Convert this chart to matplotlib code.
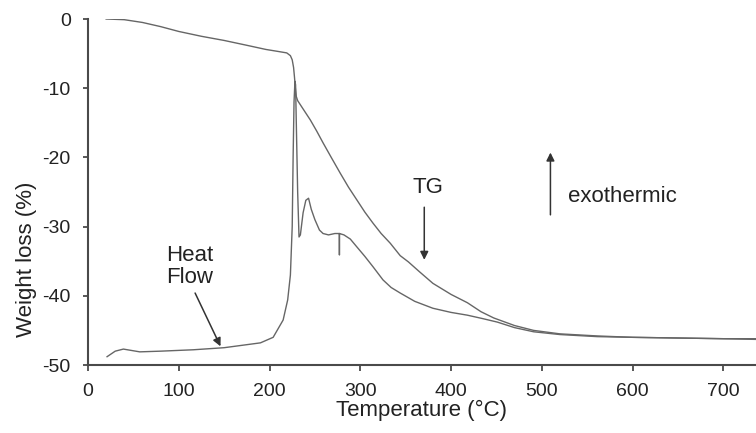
import matplotlib
matplotlib.use("Agg")
import matplotlib.pyplot as plt

plt.rcParams['font.family'] = ['Liberation Sans', 'DejaVu Sans']

# TG curve (weight loss %)
tg_t = [20, 40, 60, 80, 100, 125, 150, 175, 196, 210, 219, 223, 225, 226.5, 227.5,
        228.5, 229.5, 231, 235, 240, 245, 252, 259, 268, 278, 287, 296.5, 305, 314,
        323, 333, 344, 353, 365, 380, 400, 418, 433, 447, 470, 491, 520, 561, 600,
        650, 700, 736]
tg_y = [0, -0.1, -0.5, -1.1, -1.8, -2.5, -3.1, -3.8, -4.4, -4.7, -4.9, -5.3, -5.9,
        -7.0, -8.4, -10.0, -11.2, -11.8, -12.6, -13.6, -14.6, -16.2, -17.9, -20.0,
        -22.3, -24.3, -26.2, -27.9, -29.5, -31.0, -32.4, -34.2, -35.1, -36.5, -38.2,
        -39.8, -41.0, -42.3, -43.2, -44.3, -45.0, -45.5, -45.8, -46.0, -46.1, -46.2,
        -46.3]

# Heat flow curve (arbitrary, plotted on same scale)
hf_t = [21, 30, 39, 48, 57, 80, 116, 150, 190, 204, 215, 220, 223, 225, 226, 227,
        228, 228.7, 229.5, 231, 232.5, 234, 237, 240, 243, 246, 250, 255, 259, 265,
        272, 277, 277.01, 277.02, 282, 289, 296, 305, 314, 325, 334, 344, 360, 380,
        400, 418, 435, 451, 470, 491, 520, 561, 600, 650, 700, 736]
hf_y = [-48.8, -48.0, -47.7, -47.9, -48.1, -48.0, -47.8, -47.5, -46.8, -46.0, -43.5,
        -40.6, -37.0, -30.0, -20.0, -12.0, -9.0, -9.5, -15.0, -25.0, -31.5, -31.2,
        -28.0, -26.2, -25.9, -27.5, -29.0, -30.5, -31.0, -31.2, -31.0, -31.0, -34.1,
        -31.0, -31.2, -31.8, -32.9, -34.3, -35.8, -37.7, -38.8, -39.6, -40.8, -41.8,
        -42.4, -42.8, -43.3, -43.8, -44.6, -45.2, -45.6, -45.9, -46.0, -46.1, -46.2,
        -46.2]

xticks = [0, 100, 200, 300, 400, 500, 600, 700]
yticks = [0, -10, -20, -30, -40, -50]

line_color = '#666666'
spine_color = '#4a4a4a'
text_color = '#222222'
big = 16

fig = plt.figure(figsize=(7.56, 4.33), dpi=100)
ax = fig.add_axes([88/756, 68/433, 668/756, 346/433])

ax.plot(tg_t, tg_y, color=line_color, lw=1.0)
ax.plot(hf_t, hf_y, color=line_color, lw=1.0)

ax.set_xlim(0, 736)
ax.set_ylim(-50, 0)
ax.set_xticks(xticks)
ax.set_yticks(yticks)
ax.set_yticklabels([str(v) for v in yticks])

for s in ['top', 'right']:
    ax.spines[s].set_visible(False)
for s in ['left', 'bottom']:
    ax.spines[s].set_color(spine_color)
    ax.spines[s].set_linewidth(1.5)

ax.tick_params(axis='y', direction='out', length=3.5, width=1.3, color=spine_color,
               pad=9, labelsize=14, labelcolor=text_color)
ax.tick_params(axis='x', direction='out', length=4, width=1.3, color=spine_color,
               pad=9, labelsize=14, labelcolor=text_color)

ax.set_xlabel('Temperature (°C)', fontsize=big, color=text_color, labelpad=0)
ax.set_ylabel('Weight loss (%)', fontsize=big, color=text_color)
ax.yaxis.set_label_coords(-0.077, 0.306)

# annotations
ax.annotate('', xy=(146, -47.3), xytext=(118, -39.6),
            arrowprops=dict(arrowstyle='-|>', color='#333333', lw=1.1,
                            mutation_scale=12, shrinkA=0, shrinkB=0))
ax.text(112, -35.8, 'Heat\nFlow', ha='center', va='center', fontsize=big,
        color=text_color, linespacing=1.05)

ax.annotate('', xy=(370.5, -34.8), xytext=(370.5, -27.2),
            arrowprops=dict(arrowstyle='-|>', color='#333333', lw=1.1,
                            mutation_scale=12, shrinkA=0, shrinkB=0))
ax.text(374, -24.3, 'TG', ha='center', va='center', fontsize=big, color=text_color)

ax.annotate('', xy=(509.5, -19.3), xytext=(509.5, -28.3),
            arrowprops=dict(arrowstyle='-|>', color='#333333', lw=1.1,
                            mutation_scale=12, shrinkA=0, shrinkB=0))
ax.text(529, -25.6, 'exothermic', ha='left', va='center', fontsize=big,
        color=text_color)

fig.savefig('out.png', dpi=100)
